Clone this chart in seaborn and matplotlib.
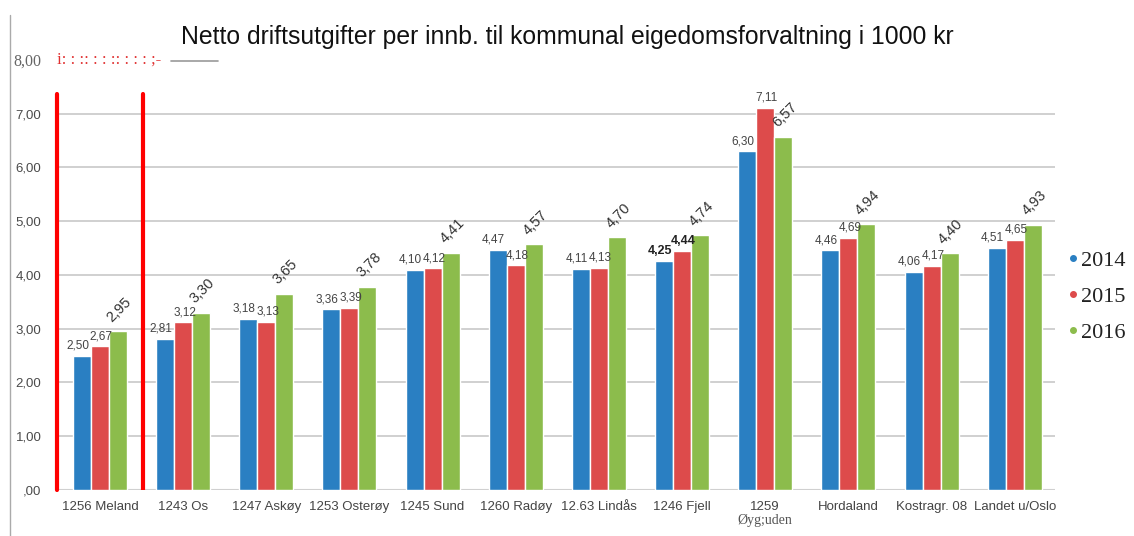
import matplotlib
matplotlib.use("Agg")
import matplotlib.pyplot as plt
from matplotlib.lines import Line2D
import pandas as pd
import seaborn as sns

categories = ['1256 Meland', '1243 Os', '1247 Askøy', '1253 Osterøy', '1245 Sund',
              '1260 Radøy', '12.63 Lindås', '1246 Fjell', '1259',
              'Hordaland', 'Kostragr. 08', 'Landet u/Oslo']
years = ['2014', '2015', '2016']
v2014 = [2.50, 2.81, 3.18, 3.36, 4.10, 4.47, 4.11, 4.25, 6.30, 4.46, 4.06, 4.51]
v2015 = [2.67, 3.12, 3.13, 3.39, 4.12, 4.18, 4.13, 4.44, 7.11, 4.69, 4.17, 4.65]
v2016 = [2.95, 3.30, 3.65, 3.78, 4.41, 4.57, 4.70, 4.74, 6.57, 4.94, 4.40, 4.93]
yticks = [0, 1, 2, 3, 4, 5, 6, 7, 8]
ytick_labels = [',00', '1,00', '2,00', '3,00', '4,00', '5,00', '6,00', '7,00', '8,00']
colors = ['#2a7fc2', '#dd4b4b', '#8cbc4c']

df = pd.DataFrame({
    'kommune': categories * 3,
    'year': [y for y in years for _ in categories],
    'value': v2014 + v2015 + v2016,
})

sns.set_theme(style='white')
plt.rcParams['font.family'] = ['Liberation Sans', 'DejaVu Sans']

fig = plt.figure(figsize=(11.34, 5.36), dpi=100)
ax = fig.add_axes([0.050, 0.0858, 0.880, 0.8025])

sns.barplot(data=df, x='kommune', y='value', hue='year', palette=colors,
            width=0.65, gap=0, saturation=1, ax=ax, legend=False)

ax.set_xlim(-0.52, 11.48)
ax.set_ylim(0, 8)
for y in yticks[1:-1]:
    ax.axhline(y, color='#c8c8c8', lw=1.2, zorder=0)
ax.axhline(0, color='#d0d0d0', lw=1.5, zorder=0)
for s in ax.spines.values():
    s.set_visible(False)

ax.set_yticks(yticks)
ax.set_yticklabels(ytick_labels, fontsize=9.5, color='#4a4a4a')
ax.get_yticklabels()[-1].set_family('Liberation Serif')
ax.get_yticklabels()[-1].set_fontsize(11.5)
ax.get_yticklabels()[-1].set_color('#666666')
ax.tick_params(axis='y', length=0, pad=11)
ax.tick_params(axis='x', length=0, pad=8)
ax.set_xticks(range(len(categories)))
ax.set_xticklabels(categories, fontsize=9.5, color='#444444')
ax.set_xlabel('')
ax.set_ylabel('')

# value labels
for cont, yr in zip(ax.containers, years):
    for i, bar in enumerate(cont):
        h = bar.get_height()
        xc = bar.get_x() + bar.get_width() / 2
        lab = f'{h:.2f}'.replace('.', ',')
        if yr == '2016':
            ax.annotate(lab, (xc, h), xytext=(1, 5), textcoords='offset points',
                        ha='center', va='bottom', rotation=45, fontsize=10.5,
                        color='#333333')
        else:
            bold = (i == 7)
            dx = -3 if yr == '2014' else 1
            ax.annotate(lab, (xc, h), xytext=(dx, 3), textcoords='offset points',
                        ha='center', va='bottom', fontsize=9 if bold else 8.5,
                        color='#222222' if bold else '#444444',
                        fontweight='bold' if bold else 'normal')

# red marker lines
ax.axvline(-0.52, ymax=7.37 / 8, color='#ff0000', lw=3, zorder=5, clip_on=False)
ax.axvline(0.517, ymax=7.37 / 8, color='#ff0000', lw=3, zorder=5)

# odd scan artefacts at the 8,00 level
ax.text(-0.52, 8, 'i: : :: : : :: : : : ;-', color='#e03030', fontsize=12,
        family='Liberation Serif', va='center', ha='left')
fig.add_artist(Line2D([171 / 1134, 218 / 1134], [1 - 61 / 536, 1 - 61 / 536],
                      color='#999999', lw=1.2))
# left frame line
fig.add_artist(Line2D([10 / 1134, 10 / 1134], [0, 1 - 15 / 536], color='#aaaaaa', lw=1))

# second line of the 1259 label, in serif
ax.text(8, -0.45, 'Øyg;uden', ha='center', va='top', fontsize=10,
        family='Liberation Serif', color='#555555')

fig.text(0.5, 1 - 37 / 536, 'Netto driftsutgifter per innb. til kommunal eigedomsforvaltning i 1000 kr',
         ha='center', va='center', fontsize=17.8, color='#111111')

handles = [Line2D([], [], marker='o', ls='', color=c, markersize=4) for c in colors]
leg = ax.legend(handles, years, loc='center left', bbox_to_anchor=(1.003, 0.45),
                frameon=False, handlelength=0.4, handletextpad=0.15, borderpad=0,
                labelspacing=0.7, prop={'family': 'Liberation Serif', 'size': 16})
for t in leg.get_texts():
    t.set_color('#222222')

fig.savefig('out.png', dpi=100)
